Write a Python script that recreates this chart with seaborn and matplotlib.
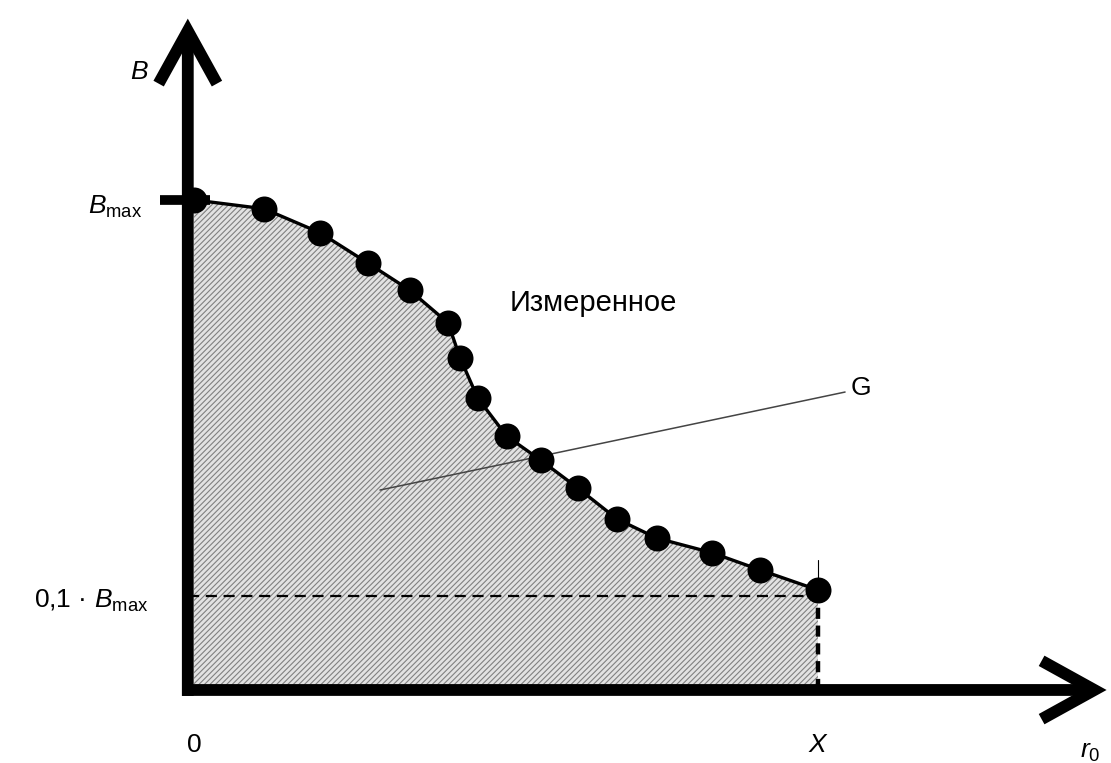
import matplotlib
matplotlib.use("Agg")
import matplotlib.pyplot as plt
import seaborn as sns
import pandas as pd

# ---- data (r in units of X, B in units of Bmax) ----
r_values = [0.01, 0.121, 0.210, 0.286, 0.352, 0.413, 0.432, 0.460, 0.506,
            0.560, 0.619, 0.681, 0.744, 0.832, 0.908, 1.0]
b_values = [1.0, 0.982, 0.933, 0.871, 0.816, 0.749, 0.678, 0.596, 0.518,
            0.469, 0.412, 0.349, 0.310, 0.280, 0.245, 0.204]
level_label = "0,1 · $B_{\\rm max}$"
level_value = 0.192
x_end = 1.0
curve_label = "Измеренное"
area_label = "G"

sns.set_theme(style="white")
plt.rcParams["font.family"] = ["Liberation Sans", "DejaVu Sans"]
plt.rcParams["mathtext.fontset"] = "custom"
plt.rcParams["mathtext.rm"] = "Liberation Sans"
plt.rcParams["mathtext.it"] = "Liberation Sans:italic"
plt.rcParams["hatch.linewidth"] = 0.8
plt.rcParams["text.color"] = "black"

df = pd.DataFrame({"r": r_values, "B": b_values})

fig = plt.figure(figsize=(11.11, 7.63), dpi=100)
ax = fig.add_axes([0, 0, 1, 1])

# hatched area
ax.fill_between(df["r"], df["B"], 0, facecolor="#e2e2e2", edgecolor="none", zorder=1)
ax.fill_between(df["r"], df["B"], 0, facecolor="none", edgecolor="#808080",
                hatch="//////", linewidth=0, zorder=1.5)

# dashed guide lines
ax.plot([0, x_end], [level_value, level_value], color="black", lw=1.6,
        dashes=(5, 3), zorder=2)
ax.plot([x_end, x_end], [0, level_value], color="black", lw=3.2,
        dashes=(2.5, 1.5), zorder=2)
ax.plot([x_end, x_end], [b_values[-1], 0.265], color="black", lw=0.8, zorder=2)

# measured curve
sns.lineplot(data=df, x="r", y="B", ax=ax, color="black", lw=2.4, zorder=3,
             sort=False, estimator=None)
sns.scatterplot(data=df, x="r", y="B", ax=ax, color="black", s=300,
                edgecolor="black", zorder=4)
ax.set_xlim(-0.298, 1.465)
ax.set_ylim(-0.149, 1.408)
ax.axis("off")

# axes with arrows
arrow_kw = dict(arrowstyle="->,head_length=1.9,head_width=1.05", lw=8.5,
                color="black", shrinkA=0, shrinkB=0, mutation_scale=20,
                capstyle="butt", joinstyle="miter")
ax.annotate("", xy=(0, 1.37), xytext=(0, -0.012), arrowprops=arrow_kw, zorder=5)
ax.annotate("", xy=(1.458, 0), xytext=(-0.009, 0), arrowprops=arrow_kw, zorder=5)

# Bmax tick
ax.plot([-0.044, 0.035], [1.0, 1.0], color="black", lw=7, solid_capstyle="butt", zorder=5)

# labels
fs = 19
ax.text(-0.062, 1.262, "$B$", fontsize=fs, ha="right", va="center")
ax.text(-0.072, 0.985, "$B_{\\rm max}$", fontsize=fs, ha="right", va="center")
ax.text(-0.062, 0.182, level_label, fontsize=fs, ha="right", va="center")
ax.text(0.011, -0.112, "0", fontsize=fs, ha="center", va="center")
ax.text(1.0, -0.112, "$X$", fontsize=fs, ha="center", va="center")
ax.text(1.432, -0.127, "$r_0$", fontsize=fs, ha="center", va="center")
ax.text(0.511, 0.790, curve_label, fontsize=21, ha="left", va="center")
ax.text(1.052, 0.616, area_label, fontsize=fs, ha="left", va="center")

# leader line to G
ax.plot([0.305, 1.043], [0.408, 0.608], color="#444444", lw=1.1, zorder=2.5)

fig.savefig("out.png", dpi=100, facecolor="white")
